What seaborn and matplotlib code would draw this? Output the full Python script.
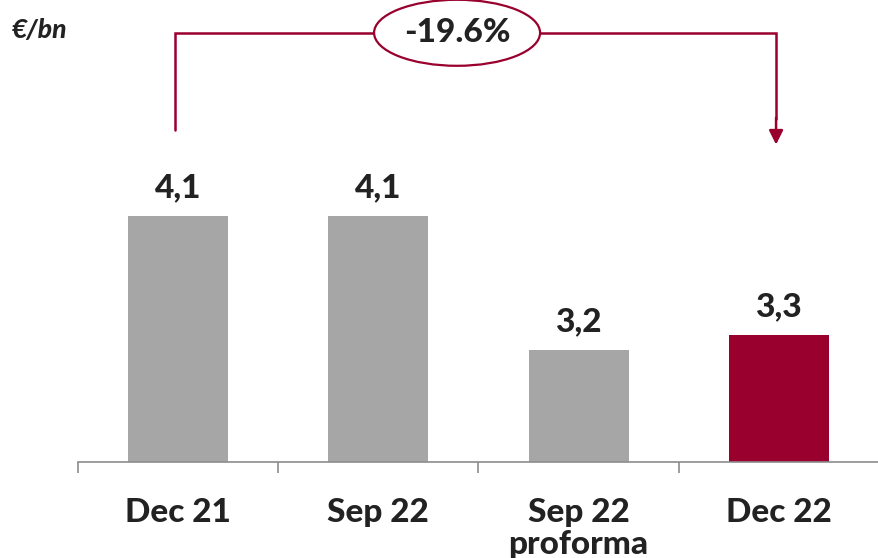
import matplotlib
matplotlib.use('Agg')
import matplotlib.pyplot as plt
from matplotlib.patches import Ellipse
import pandas as pd
import seaborn as sns

sns.set_theme(style='white')
plt.rcParams['font.family'] = ['Lato', 'DejaVu Sans']

# data
categories = ['Dec 21', 'Sep 22', 'Sep 22\nproforma', 'Dec 22']
values = [4.1, 4.1, 3.2, 3.3]
bar_colors = ['#a6a6a6', '#a6a6a6', '#a6a6a6', '#99002e']
change_label = '-19.6%'
unit_label = '€/bn'

TEXT = '#222222'
RED = '#99002e'
WEIGHT = 900

df = pd.DataFrame({'period': categories, 'value': values})

fig = plt.figure(figsize=(8.79, 5.58), dpi=100)
ax = fig.add_axes([78 / 879, 96 / 558, 801 / 879, 462 / 558])

sns.barplot(data=df, x='period', y='value', hue='period',
            palette=bar_colors, legend=False, width=0.5, ax=ax,
            edgecolor='none', saturation=1)

ax.set_xlim(-0.5, 3.5)
ax.set_ylim(2.45, 5.55)
for side in ['top', 'right', 'left']:
    ax.spines[side].set_visible(False)
ax.spines['bottom'].set_color('#8c8c8c')
ax.spines['bottom'].set_linewidth(1.2)
ax.set_yticks([])
ax.set_xlabel('')
ax.set_ylabel('')

# labels centred under bars, small ticks at the category boundaries
ax.set_xticks(range(len(categories)))
ax.set_xticklabels(categories, fontsize=24, fontweight=WEIGHT, color=TEXT,
                   linespacing=1.12, va='top')
ax.tick_params(axis='x', which='major', length=0, pad=26)
ax.set_xticks([-0.5, 0.5, 1.5, 2.5, 3.5], minor=True)
ax.tick_params(axis='x', which='minor', bottom=True, length=8, width=1.2,
               color='#8c8c8c', direction='out')

for i, v in enumerate(values):
    ax.annotate(f'{v:.1f}'.replace('.', ','), (i, v), xytext=(0, 10),
                textcoords='offset points', ha='center', va='bottom',
                fontsize=24, fontweight=WEIGHT, color=TEXT)

# bracket with the change between first and last bar
x_left, x_right = -0.016, 2.986
y_top = 5.33
ax.plot([x_left, x_left, x_right, x_right], [4.68, y_top, y_top, 4.75],
        color=RED, lw=1.8, clip_on=False, solid_joinstyle='miter')
ax.annotate('', xy=(x_right, 4.58), xytext=(x_right, 4.76),
            arrowprops=dict(arrowstyle='-|>,head_length=0.7,head_width=0.35',
                            color=RED, lw=1.8, shrinkA=0, shrinkB=0),
            annotation_clip=False)
ax.add_patch(Ellipse((1.393, y_top), 0.829, 0.443, facecolor='white',
                     edgecolor=RED, lw=1.6, clip_on=False, zorder=5))
ax.text(1.393, y_top, change_label, ha='center', va='center', fontsize=24,
        fontweight=WEIGHT, color=TEXT, zorder=6)

fig.text(12 / 879, 1 - 30 / 558, unit_label, ha='left', va='center',
         fontsize=19, fontweight=WEIGHT, fontstyle='italic', color=TEXT)

fig.savefig('out.png', dpi=100)
